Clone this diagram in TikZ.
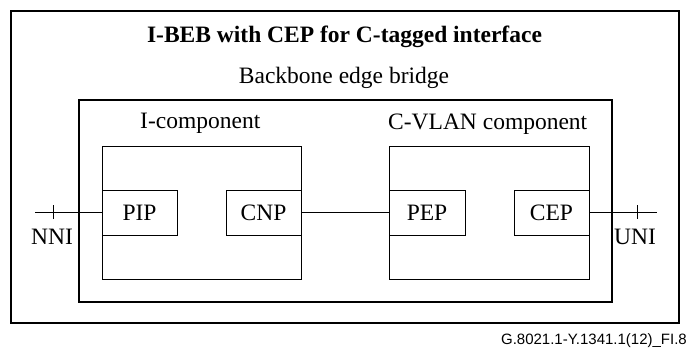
\documentclass[tikz,border=0pt]{standalone}
\usepackage{fontspec}
\setmainfont{Liberation Serif}
\newfontfamily\footfont{Liberation Sans}
\begin{document}
\begin{tikzpicture}[x=1pt,y=-1pt,
  box/.style={draw, line width=0.9pt, inner sep=0pt, minimum width=#1},
  portbox/.style={draw, line width=0.9pt, inner sep=0pt, minimum width=75pt, minimum height=45pt, font=\fontsize{23.5}{26}\selectfont},
  lbl/.style={inner sep=0pt, anchor=base, font=\fontsize{23.5}{26}\selectfont},
  wire/.style={line width=0.9pt}]
\useasboundingbox (0,0) rectangle (689,349);
\node[box=668pt, minimum height=312pt, line width=1.2pt] (outer) at (345,167) {};
\node[box=533pt, minimum height=202pt, line width=1.2pt] (bridge) at (345.5,201) {};
\node[box=199pt, minimum height=133pt] (icomp) at (201.5,212.5) {};
\node[box=200pt, minimum height=133pt] (ccomp) at (489,212.5) {};
\node[portbox] (pip) at (139.5,212.5) {PIP};
\node[portbox] (cnp) at (263.5,212.5) {CNP};
\node[portbox, minimum width=76pt] (pep) at (427,212.5) {PEP};
\node[portbox] (cep) at (551.5,212.5) {CEP};
\node[lbl, font=\bfseries\fontsize{23.5}{26}\selectfont] (title) at (344.5,42) {I-BEB with CEP for C-tagged interface};
\node[lbl] (bebl) at (344,83) {Backbone edge bridge};
\node[lbl, anchor=base west] (icl) at (140,128) {I-component};
\node[lbl, anchor=base west] (ccl) at (388,129) {C-VLAN component};
\node[lbl] (nnil) at (52,244) {NNI};
\node[lbl] (unil) at (635,244) {UNI};
\node[inner sep=0pt, anchor=base east, font=\footfont\fontsize{15}{17}\selectfont] (foot) at (687,344) {G.8021.1-Y.1341.1(12)\_FI.8};
\coordinate (nni) at (35,212.5);
\coordinate (uni) at (657,212.5);
\coordinate (nt1) at (53,205);
\coordinate (nt2) at (53,219);
\coordinate (ut1) at (637,205);
\coordinate (ut2) at (637,219);
\draw[wire] (nni) -- (pip.west);
\draw[wire] (nt1) -- (nt2);
\draw[wire] (cnp.east) -- (pep.west);
\draw[wire] (cep.east) -- (uni);
\draw[wire] (ut1) -- (ut2);
\end{tikzpicture}
\end{document}
